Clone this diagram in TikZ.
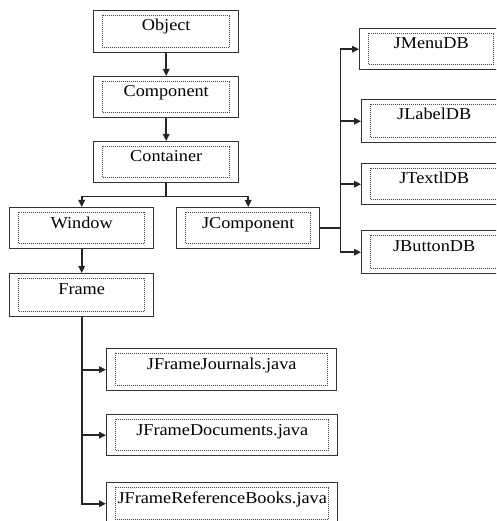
\documentclass[tikz,border=0pt]{standalone}
\usepackage{fontspec}
\setmainfont[FakeStretch=1.1]{Liberation Serif}
\usetikzlibrary{arrows.meta}
\definecolor{boxline}{HTML}{333333}
\definecolor{dotline}{HTML}{444444}
\tikzset{
  outer/.style={draw=boxline, line width=1.4pt, fill=white, inner sep=0pt, anchor=north west},
  inner/.style={draw=dotline, line width=0.8pt, dash pattern=on 1pt off 1pt},
  lbl/.style={font=\fontsize{16.6}{18}\selectfont, inner sep=0pt, anchor=base},
  conn/.style={draw=black!85, line width=1.6pt},
  arr/.style={conn, -{Triangle[length=7pt,width=6.5pt]}},
}
\newcommand{\cbox}[6]{%
  \node[outer, minimum width={#4pt-#2pt}, minimum height={#5pt-#3pt}] (#1) at (#2,#3) {};
  \draw[inner] ([xshift=9pt,yshift=-5pt]#1.north west) rectangle ([xshift=-10pt,yshift=6pt]#1.south east);
  \node[lbl] (#1-t) at ([yshift=-21pt]#1.north) {#6};
}
\begin{document}
\begin{tikzpicture}[x=1pt,y=-1pt]
\clip (0,0) rectangle (496,521);
\fill[white] (0,0) rectangle (496,521);
\cbox{obj}{93}{10}{238}{52}{Object}
\cbox{comp}{93}{76}{238}{117}{Component}
\cbox{cont}{93}{141}{238}{182}{Container}
\cbox{win}{9}{207}{153}{248}{Window}
\cbox{jcomp}{176}{207}{319}{248}{JComponent}
\cbox{frame}{9}{273}{153}{316}{Frame}
\cbox{jmenu}{359}{28}{502}{69}{JMenuDB}
\cbox{jlabel}{361}{99}{506}{142}{JLabelDB}
\cbox{jtext}{361}{163}{506}{204}{JTextlDB}
\cbox{jbutton}{361}{230}{506}{273}{JButtonDB}
\cbox{jfj}{106}{348}{336}{390}{JFrameJournals.java}
\cbox{jfd}{106}{414}{337}{455}{JFrameDocuments.java}
\cbox{jfr}{106}{482}{337}{524}{JFrameReferenceBooks.java}
% connectors
\draw[arr] (obj.south) -- (comp.north);
\draw[arr] (comp.south) -- (cont.north);
\draw[conn] (cont.south) -- ++(0,13) coordinate (split);
\draw[arr] (split) -| (win.north);
\draw[arr] (split) -| (jcomp.north);
\draw[arr] (win.south) -- (frame.north);
\draw[conn] (jcomp.east) -- ++(20,0) coordinate (jbus);
\draw[arr] (jbus) |- (jmenu.west);
\draw[arr] (jbus) |- (jlabel.west);
\draw[arr] (jbus) |- (jtext.west);
\draw[arr] (jbus) |- (jbutton.west);
\draw[arr] (frame.south) |- (jfj.west);
\draw[arr] (frame.south) |- (jfd.west);
\draw[arr] (frame.south) |- (jfr.west);
\end{tikzpicture}
\end{document}
